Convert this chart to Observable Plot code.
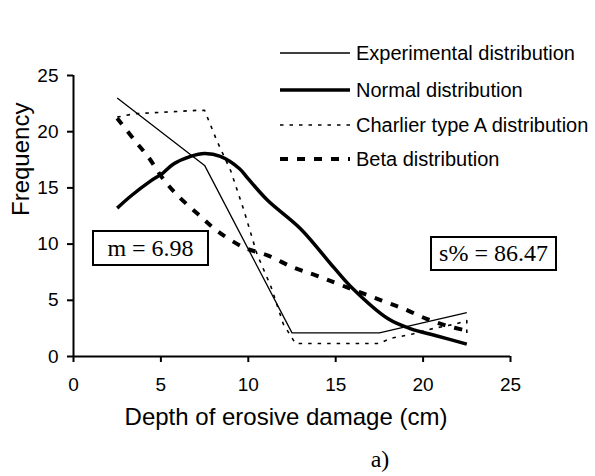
<!DOCTYPE html>
<html>
<head>
<meta charset="utf-8">
<script src="https://cdn.jsdelivr.net/npm/d3@7"></script>
<script src="https://cdn.jsdelivr.net/npm/@observablehq/plot@0.6"></script>
<style>
  html, body { margin: 0; padding: 0; background: white; }
  #wrap { position: relative; width: 595px; height: 476px; overflow: hidden; }
  .box { position: absolute; border: 2px solid black; box-sizing: border-box;
         font-family: "Liberation Serif", "Times New Roman", serif; font-size: 24px;
         display: flex; align-items: center; justify-content: center; background: white; }
  #legend { position: absolute; left: 0; top: 0; }
</style>
</head>
<body>
<div id="wrap"></div>
<script>
// ---- data ----
const xTicks = [0, 5, 10, 15, 20, 25];
const yTicks = [0, 5, 10, 15, 20, 25];

const experimentalX = [2.5, 7.5, 12.5, 17.5, 22.5];
const experimentalY = [23, 17, 2.1, 2.1, 3.9];

const normalX = [2.5, 3.3, 4.4, 5.1, 5.7, 6.7, 7.5, 8.4, 9.5, 10.0, 11.1, 13.0, 14.9, 16.0, 18.0, 19.3, 20.7, 22.5];
const normalY = [13.2, 14.3, 15.6, 16.3, 17.1, 17.8, 18.05, 17.8, 16.7, 15.8, 13.9, 11.35, 7.9, 6.0, 3.35, 2.46, 1.87, 1.1];

const charlierX = [2.5, 3.5, 7.1, 7.5, 8.2, 9.0, 9.75, 10.5, 11.3, 12.0, 12.7, 17.5, 18.1, 19.4, 20.6, 21.9, 22.5, 22.5];
const charlierY = [21.3, 21.6, 21.9, 21.9, 19.2, 16.5, 13.0, 9.1, 6.2, 2.9, 1.15, 1.15, 1.6, 2.0, 2.5, 2.9, 3.2, 2.0];

const betaX = [2.5, 3.46, 4.3, 5.08, 5.97, 7.1, 8.2, 9.75, 11.1, 12.6, 13.9, 15.4, 17.6, 18.9, 20.2, 21.3, 22.5];
const betaY = [21.2, 19.3, 17.7, 15.9, 14.3, 12.7, 11.2, 9.7, 9.0, 7.9, 7.2, 6.3, 5.0, 4.24, 3.35, 2.76, 2.3];

const seriesNames = ["Experimental distribution", "Normal distribution", "Charlier type A distribution", "Beta distribution"];
const statLabels = ["m = 6.98", "s% = 86.47"];
const xLabel = "Depth of erosive damage (cm)";
const yLabel = "Frequency";
const panelLabel = "a)";

// ---- styles ----
const styles = [
  {strokeWidth: 1.3, dash: null, curve: "linear"},
  {strokeWidth: 3.5, dash: null, curve: "catmull-rom"},
  {strokeWidth: 1.6, dash: "3.5,6", curve: "linear"},
  {strokeWidth: 4, dash: "8,9", curve: "catmull-rom"}
];
const seriesData = [
  experimentalX.map((x, i) => ({x, y: experimentalY[i]})),
  normalX.map((x, i) => ({x, y: normalY[i]})),
  charlierX.map((x, i) => ({x, y: charlierY[i]})),
  betaX.map((x, i) => ({x, y: betaY[i]}))
];

const lineMarks = seriesData.map((d, i) => Plot.line(d, {
  x: "x", y: "y", stroke: "black", strokeWidth: styles[i].strokeWidth,
  strokeDasharray: styles[i].dash || undefined, curve: styles[i].curve,
  strokeLinecap: "butt", strokeLinejoin: "round"
}));

const chart = Plot.plot({
  width: 595, height: 476,
  marginLeft: 73, marginRight: 85, marginTop: 75, marginBottom: 120,
  style: {fontFamily: "'Liberation Sans', Arial, sans-serif", fontSize: "19px", color: "black", background: "white", overflow: "visible"},
  x: {domain: [0, 25], label: null},
  y: {domain: [0, 25], label: null},
  marks: [
    Plot.axisX({ticks: xTicks, tickSize: 6, tickPadding: 15, strokeWidth: 2, fontSize: 19, label: null}),
    Plot.axisY({ticks: yTicks, tickSize: 6, tickPadding: 9, strokeWidth: 2, fontSize: 19, label: null}),
    Plot.ruleY([0], {strokeWidth: 2}),
    Plot.ruleX([0], {strokeWidth: 2}),
    ...lineMarks,
    Plot.text([yLabel], {frameAnchor: "left", dx: -52, rotate: -90, fontSize: 24}),
    Plot.text([xLabel], {frameAnchor: "bottom", dx: -6, dy: 68, fontSize: 24}),
    Plot.text([panelLabel], {frameAnchor: "bottom", dx: 88, dy: 110, fontSize: 24, fontFamily: "'Liberation Serif', 'Times New Roman', serif"})
  ]
});

const wrap = document.getElementById("wrap");
wrap.appendChild(chart);

// stat boxes
const boxes = [
  {left: 92, top: 230, width: 117, height: 36},
  {left: 430, top: 236, width: 127, height: 35}
];
statLabels.forEach((t, i) => {
  const b = document.createElement("div");
  b.className = "box";
  Object.assign(b.style, {left: boxes[i].left + "px", top: boxes[i].top + "px", width: boxes[i].width + "px", height: boxes[i].height + "px"});
  b.textContent = t;
  wrap.appendChild(b);
});

// legend
const rowsY = [53, 90, 125, 159];
const leg = d3.create("svg").attr("id", "legend").attr("width", 595).attr("height", 200);
seriesNames.forEach((name, i) => {
  leg.append("line").attr("x1", 280).attr("x2", 350).attr("y1", rowsY[i]).attr("y2", rowsY[i])
    .attr("stroke", "black").attr("stroke-width", styles[i].strokeWidth)
    .attr("stroke-dasharray", styles[i].dash);
  leg.append("text").attr("x", 356).attr("y", rowsY[i]).attr("dy", "0.35em")
    .attr("font-family", "'Liberation Sans', Arial, sans-serif").attr("font-size", 20)
    .text(name);
});
wrap.appendChild(leg.node());
</script>
</body>
</html>
